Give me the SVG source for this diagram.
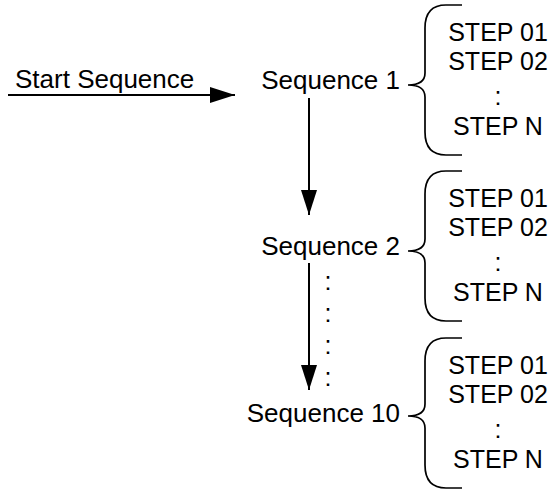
<svg xmlns="http://www.w3.org/2000/svg" width="554" height="491" viewBox="0 0 554 491">
<style>
text{font-family:"Liberation Sans",Arial,sans-serif;font-size:26px;fill:#000}
.lbl{text-anchor:end}
.step{text-anchor:middle;font-size:25px}
.ln{stroke:#000;stroke-width:2;fill:none}
.brace{stroke:#000;stroke-width:1.7;fill:none}
</style>
<defs>
<marker id="ah" markerUnits="userSpaceOnUse" markerWidth="25" markerHeight="16" refX="25" refY="8" orient="auto">
<path d="M0,0 L25,8 L0,16 Z" fill="#000"/>
</marker>
</defs>
<rect width="554" height="491" fill="#fff"/>
<g id="connectors">
<line class="ln" x1="8" y1="95" x2="235" y2="95" marker-end="url(#ah)"/>
<line class="ln" x1="309" y1="98" x2="309" y2="215" marker-end="url(#ah)"/>
<line class="ln" x1="309" y1="263" x2="309" y2="390" marker-end="url(#ah)"/>
</g>
<g id="start">
<text x="15" y="88">Start Sequence</text>
</g>
<g id="seq1">
<text class="lbl" x="400" y="89">Sequence 1</text>
<path class="brace" d="M462,5 L446,5 Q425,5 425,28 L425,73 Q425,85 408,85 Q425,85 425,97 L425,132 Q425,155 446,155 L462,155"/>
<text class="step" x="498" y="41">STEP 01</text>
<text class="step" x="498" y="70">STEP 02</text>
<text class="step" x="498" y="105">:</text>
<text class="step" x="498" y="135">STEP N</text>
</g>
<g id="seq2">
<text class="lbl" x="400" y="255">Sequence 2</text>
<path class="brace" d="M462,171 L446,171 Q425,171 425,194 L425,239 Q425,251 408,251 Q425,251 425,263 L425,298 Q425,321 446,321 L462,321"/>
<text class="step" x="498" y="207">STEP 01</text>
<text class="step" x="498" y="236">STEP 02</text>
<text class="step" x="498" y="271">:</text>
<text class="step" x="498" y="301">STEP N</text>
</g>
<g id="dots">
<text class="step" x="328" y="290">:</text>
<text class="step" x="328" y="322">:</text>
<text class="step" x="328" y="354">:</text>
<text class="step" x="328" y="386">:</text>
</g>
<g id="seq10">
<text class="lbl" x="400" y="422">Sequence 10</text>
<path class="brace" d="M462,338 L446,338 Q425,338 425,361 L425,404 Q425,416 408,416 Q425,416 425,428 L425,465 Q425,488 446,488 L462,488"/>
<text class="step" x="498" y="374">STEP 01</text>
<text class="step" x="498" y="403">STEP 02</text>
<text class="step" x="498" y="438">:</text>
<text class="step" x="498" y="468">STEP N</text>
</g>
</svg>
